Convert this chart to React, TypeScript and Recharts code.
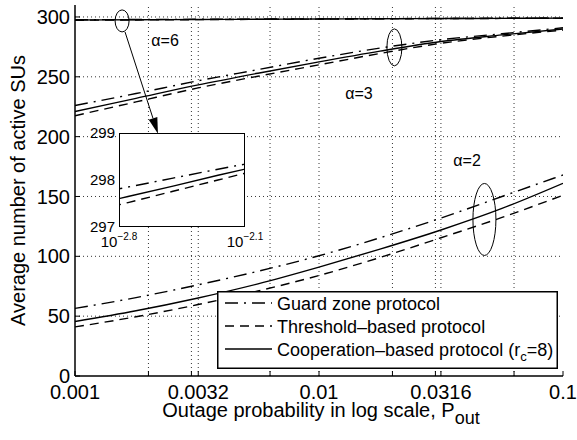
import React from 'react';
import { LineChart, Line, XAxis, YAxis, ReferenceLine, ReferenceDot } from 'recharts';

// outage probability points, as log10 exponents
const logP = [-3, -2.75, -2.5, -2.25, -2, -1.75, -1.5, -1.25, -1];

// alpha = 6
const guard6 = [297.66, 297.85, 298.04, 298.23, 298.41, 298.58, 298.75, 298.9, 299.05];
const coop6 = [297.42, 297.65, 297.87, 298.1, 298.32, 298.52, 298.7, 298.86, 299.0];
const thresh6 = [297.28, 297.52, 297.76, 298.0, 298.24, 298.45, 298.64, 298.8, 298.95];

// alpha = 3
const guard3 = [226, 236, 246.5, 256, 265.5, 274, 281, 286, 291];
const coop3 = [221, 232, 243, 253, 262.5, 271.5, 279.5, 285, 290];
const thresh3 = [217.5, 229, 240.5, 250.5, 260, 269.5, 278, 284, 289];

// alpha = 2
const guard2 = [56.5, 65.5, 76, 87.5, 100.5, 115.5, 132, 150, 168];
const coop2 = [45.5, 54.5, 65, 77, 91, 106, 122, 140, 161];
const thresh2 = [41, 49.5, 59.5, 71, 84, 99, 115.5, 132.5, 151];

const xMajor = [0.001, 0.0032, 0.01, 0.0316, 0.1];
const xMajorLabels = ['0.001', '0.0032', '0.01', '0.0316', '0.1'];
const xGrid = [0.001, 0.002, 0.003, 0.0032, 0.0063, 0.01, 0.02, 0.03, 0.0316, 0.063, 0.1];
const yTicks = [0, 50, 100, 150, 200, 250, 300];

const insetExp = [-2.8, -2.1];
const insetExpLabels = ['\u22122.8', '\u22122.1'];
const insetYTicks = [297, 298, 299];

// annotation anchors (log10 p, value)
const ellipses = [
  { e: -2.807, v: 296.7, rx: 7, ry: 11 },
  { e: -1.691, v: 274.6, rx: 7.5, ry: 18.5 },
  { e: -1.322, v: 130.8, rx: 11.5, ry: 36 },
];
const alphaNotes = [
  { e: -2.631, v: 280, text: '\u03b1=6' },
  { e: -1.836, v: 235.8, text: '\u03b1=3' },
  { e: -1.393, v: 180, text: '\u03b1=2' },
];
const arrowFrom = { e: -2.795, v: 287.5 };
const arrowTo = { e: -2.66, v: 202.5 };

const rows = logP.map((e, i) => ({
  p: Math.pow(10, e),
  g6: guard6[i], c6: coop6[i], t6: thresh6[i],
  g3: guard3[i], c3: coop3[i], t3: thresh3[i],
  g2: guard2[i], c2: coop2[i], t2: thresh2[i],
}));

const DASHDOT = '13 6 2 6';
const DASHED = '9 6';
const LW = 1.4;

const series = [
  { key: 'g6', dash: DASHDOT }, { key: 't6', dash: DASHED }, { key: 'c6', dash: undefined },
  { key: 'g3', dash: DASHDOT }, { key: 't3', dash: DASHED }, { key: 'c3', dash: undefined },
  { key: 'g2', dash: DASHDOT }, { key: 't2', dash: DASHED }, { key: 'c2', dash: undefined },
];

const legendItems = [
  { name: 'Guard zone protocol', dash: DASHDOT },
  { name: 'Threshold\u2013based protocol', dash: DASHED },
  { name: 'Cooperation\u2013based protocol (r', dash: undefined, sub: 'c', tail: '=8)' },
];

const FONT = '"Liberation Sans", Arial, Helvetica, sans-serif';

const fmtX = (v: number) => {
  const i = xMajor.findIndex((m) => Math.abs(m - v) < 1e-9);
  return i >= 0 ? xMajorLabels[i] : '';
};

function XTitle(props: any) {
  const vb = props.viewBox || { x: 75, y: 376, width: 488 };
  return (
    <text x={vb.x + vb.width / 2 + 2} y={vb.y + 41} textAnchor="middle" fontSize={20} fill="#000">
      Outage probability in log scale, P
      <tspan fontSize={18} dy={7}>out</tspan>
    </text>
  );
}

function YTitle(props: any) {
  const vb = props.viewBox || { x: 0, y: 5, width: 75, height: 371 };
  const cx = 25;
  const cy = vb.y + vb.height / 2;
  return (
    <text x={cx} y={cy} transform={`rotate(-90, ${cx}, ${cy})`} textAnchor="middle" fontSize={20} fill="#000">
      Average number of active SUs
    </text>
  );
}

function Arrow(props: any) {
  const { x1, y1, x2, y2 } = props;
  const dx = x2 - x1;
  const dy = y2 - y1;
  const len = Math.hypot(dx, dy) || 1;
  const ux = dx / len;
  const uy = dy / len;
  const head = 16;
  const half = 4.5;
  const bx = x2 - ux * head;
  const by = y2 - uy * head;
  return (
    <g>
      <line x1={x1} y1={y1} x2={bx} y2={by} stroke="#000" strokeWidth={1} />
      <polygon
        points={`${x2},${y2} ${bx - uy * half},${by + ux * half} ${bx + uy * half},${by - ux * half}`}
        fill="#000"
      />
    </g>
  );
}

function InsetXTick(props: any) {
  const { x, y, payload } = props;
  const i = insetExp.findIndex((e) => Math.abs(Math.pow(10, e) - payload.value) < 1e-9);
  return (
    <text x={x} y={y + 20} textAnchor="middle" fill="#000">
      <tspan fontSize={15}>10</tspan>
      <tspan fontSize={10} dy={-7}>{i >= 0 ? insetExpLabels[i] : ''}</tspan>
    </text>
  );
}

export default function App() {
  return (
    <div style={{ position: 'absolute', left: 0, top: 0, width: 577, height: 440, background: '#fff', fontFamily: FONT }}>
      <LineChart width={577} height={440} data={rows} margin={{ top: 5, right: 14, bottom: 0, left: 0 }}>
        {xGrid.slice(1, -1).map((v) => (
          <ReferenceLine key={'gx' + v} x={v} stroke="#000" strokeWidth={0.8} strokeDasharray="1 3" />
        ))}
        {yTicks.slice(1).map((v) => (
          <ReferenceLine key={'gy' + v} y={v} stroke="#000" strokeWidth={0.8} strokeDasharray="1 3" />
        ))}
        <XAxis
          dataKey="p"
          type="number"
          scale="log"
          domain={[0.001, 0.1]}
          allowDataOverflow
          ticks={xGrid}
          interval={0}
          tickFormatter={fmtX}
          tickSize={-5}
          tickMargin={14}
          height={64}
          tick={{ fontSize: 20, fill: '#000' }}
          axisLine={{ stroke: '#000', strokeWidth: 1.5 }}
          tickLine={{ stroke: '#000' }}
          label={{ content: XTitle }}
        />
        <XAxis
          xAxisId="top"
          orientation="top"
          dataKey="p"
          type="number"
          scale="log"
          domain={[0.001, 0.1]}
          allowDataOverflow
          ticks={xGrid}
          interval={0}
          tickFormatter={() => ''}
          tickSize={-5}
          height={0}
          axisLine={{ stroke: '#000', strokeWidth: 1.5 }}
          tickLine={{ stroke: '#000' }}
        />
        <YAxis
          type="number"
          domain={[0, 310]}
          allowDataOverflow
          ticks={yTicks}
          interval={0}
          tickSize={-5}
          tickMargin={10}
          width={75}
          tick={{ fontSize: 20, fill: '#000' }}
          axisLine={{ stroke: '#000', strokeWidth: 1.5 }}
          tickLine={{ stroke: '#000' }}
          label={{ content: YTitle }}
        />
        <YAxis
          yAxisId="right"
          orientation="right"
          type="number"
          domain={[0, 310]}
          allowDataOverflow
          ticks={yTicks}
          interval={0}
          tickFormatter={() => ''}
          tickSize={-5}
          width={0}
          axisLine={{ stroke: '#000', strokeWidth: 1.5 }}
          tickLine={{ stroke: '#000' }}
        />
        {series.map((s) => (
          <Line
            key={s.key}
            dataKey={s.key}
            type="monotone"
            stroke="#000"
            strokeWidth={LW}
            strokeDasharray={s.dash}
            dot={false}
            activeDot={false}
            isAnimationActive={false}
          />
        ))}
        {ellipses.map((el, i) => (
          <ReferenceDot
            key={'el' + i}
            x={Math.pow(10, el.e)}
            y={el.v}
            r={1}
            shape={(p: any) => (
              <ellipse cx={p.cx} cy={p.cy} rx={el.rx} ry={el.ry} fill="none" stroke="#000" strokeWidth={1} />
            )}
          />
        ))}
        {alphaNotes.map((n, i) => (
          <ReferenceDot
            key={'al' + i}
            x={Math.pow(10, n.e)}
            y={n.v}
            r={1}
            shape={(p: any) => (
              <text x={p.cx} y={p.cy + 5} textAnchor="middle" fontSize={16} fill="#000">
                {n.text}
              </text>
            )}
          />
        ))}
        <ReferenceLine
          segment={[
            { x: Math.pow(10, arrowFrom.e), y: arrowFrom.v },
            { x: Math.pow(10, arrowTo.e), y: arrowTo.v },
          ]}
          shape={Arrow}
        />
      </LineChart>

      {/* inset: zoom on alpha = 6 */}
      <div
        style={{
          position: 'absolute', left: 119, top: 133, width: 126, height: 94,
          background: '#fff', border: '1.5px solid #000', boxSizing: 'border-box',
        }}
      />
      <div style={{ position: 'absolute', left: 70, top: 118 }}>
        <LineChart width={210} height={140} data={rows} margin={{ top: 15, right: 35, bottom: 10, left: 0 }}>
          <XAxis
            dataKey="p"
            type="number"
            scale="log"
            domain={[Math.pow(10, insetExp[0]), Math.pow(10, insetExp[1])]}
            allowDataOverflow
            ticks={insetExp.map((e) => Math.pow(10, e))}
            interval={0}
            tick={InsetXTick}
            tickSize={0}
            tickMargin={0}
            axisLine={false}
            tickLine={false}
            height={21}
          />
          <YAxis
            type="number"
            domain={[297, 299]}
            allowDataOverflow
            ticks={insetYTicks}
            interval={0}
            width={49}
            tickSize={0}
            tickMargin={4}
            axisLine={false}
            tickLine={false}
            tick={{ fontSize: 15, fill: '#000' }}
          />
          {series.slice(0, 3).map((s) => (
            <Line
              key={'in' + s.key}
              dataKey={s.key}
              type="linear"
              stroke="#000"
              strokeWidth={LW}
              strokeDasharray={s.dash}
              dot={false}
              activeDot={false}
              isAnimationActive={false}
            />
          ))}
        </LineChart>
      </div>

      {/* legend */}
      <div style={{ position: 'absolute', left: 217, top: 291 }}>
        <svg width={341} height={78}>
          <rect x={0.75} y={0.75} width={339.5} height={76.5} fill="#fff" stroke="#000" strokeWidth={1.5} />
          {legendItems.map((it, i) => {
            const cy = 12 + i * 23;
            return (
              <g key={it.name}>
                <line x1={8} x2={55} y1={cy} y2={cy} stroke="#000" strokeWidth={LW} strokeDasharray={it.dash} />
                <text x={60} y={cy + 6.5} fontSize={18} fill="#000">
                  {it.name}
                  {it.sub && <tspan fontSize={13} dy={5}>{it.sub}</tspan>}
                  {it.tail && <tspan fontSize={18} dy={-5}>{it.tail}</tspan>}
                </text>
              </g>
            );
          })}
        </svg>
      </div>
    </div>
  );
}
